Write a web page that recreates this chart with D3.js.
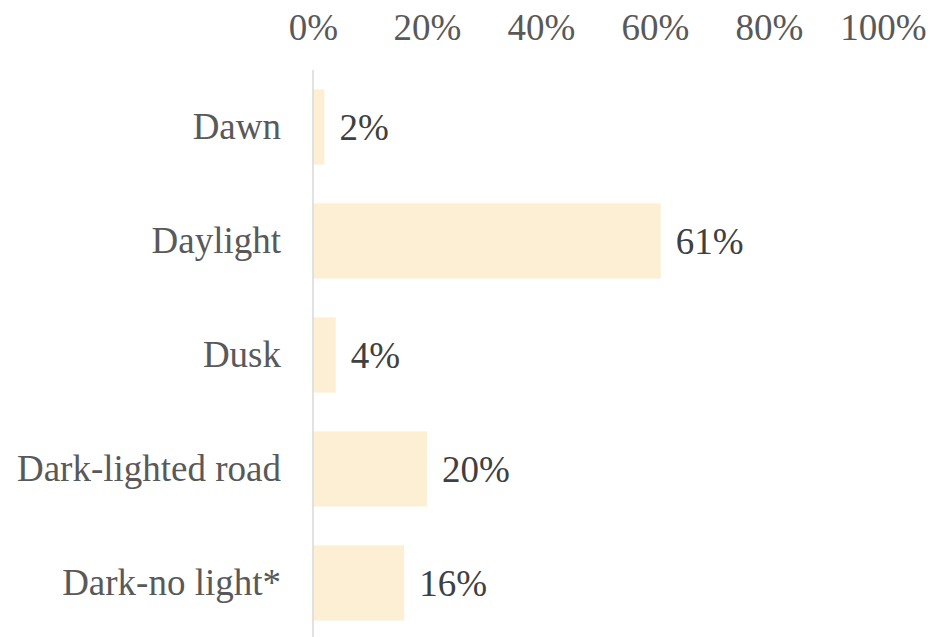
<!DOCTYPE html>
<html>
<head>
<meta charset="utf-8">
<script src="https://cdn.jsdelivr.net/npm/d3@7"></script>
<style>
  html, body { margin: 0; padding: 0; background: #fff; }
  svg { display: block; }
</style>
</head>
<body>
<svg id="chart" width="930" height="637"></svg>
<script>
// Share of crashes by light condition
const categories = ["Dawn", "Daylight", "Dusk", "Dark-lighted road", "Dark-no light*"];
const values = [2, 61, 4, 20, 16];
const tickValues = [0, 20, 40, 60, 80, 100];

const svg = d3.select("#chart");
const fontFamily = "Liberation Serif, Times New Roman, serif";
const fontSize = 37;

const x = d3.scaleLinear().domain([0, 100]).range([313, 883]);
const y = d3.scaleBand().domain(categories).range([70, 640]).paddingInner(0.34).paddingOuter(0.17);

// Top axis: labels only
const xAxis = d3.axisTop(x).tickValues(tickValues).tickFormat(d => d + "%").tickSize(0).tickPadding(0);
const gx = svg.append("g").attr("transform", "translate(0,40)").call(xAxis)
  .attr("font-family", fontFamily).attr("font-size", fontSize);
gx.select(".domain").remove();
gx.selectAll("text")
  .attr("dy", 0)
  .attr("font-family", fontFamily)
  .attr("font-size", fontSize)
  .attr("fill", "#595959");

// Bars
svg.append("g").selectAll("rect")
  .data(values)
  .join("rect")
  .attr("x", x(0))
  .attr("y", (d, i) => y(categories[i]))
  .attr("width", d => x(d) - x(0))
  .attr("height", y.bandwidth())
  .attr("fill", "#FDEFD3");

// Category labels
const yAxis = d3.axisLeft(y).tickSize(0).tickPadding(32);
const gy = svg.append("g").attr("transform", `translate(${x(0)},0)`).call(yAxis)
  .attr("font-family", fontFamily).attr("font-size", fontSize);
gy.select(".domain").remove();
gy.selectAll("text")
  .attr("font-family", fontFamily)
  .attr("font-size", fontSize)
  .attr("fill", "#595959");

// Baseline at zero
svg.append("line")
  .attr("x1", x(0)).attr("x2", x(0))
  .attr("y1", 70).attr("y2", 637)
  .attr("stroke", "#D9D9D9")
  .attr("stroke-width", 1.5);

// Value labels
svg.append("g").selectAll("text")
  .data(values)
  .join("text")
  .attr("x", d => x(d) + 15)
  .attr("y", (d, i) => y(categories[i]) + y.bandwidth() / 2)
  .attr("dy", "0.35em")
  .attr("font-family", fontFamily)
  .attr("font-size", fontSize)
  .attr("fill", "#404040")
  .text(d => d + "%");
</script>
</body>
</html>
